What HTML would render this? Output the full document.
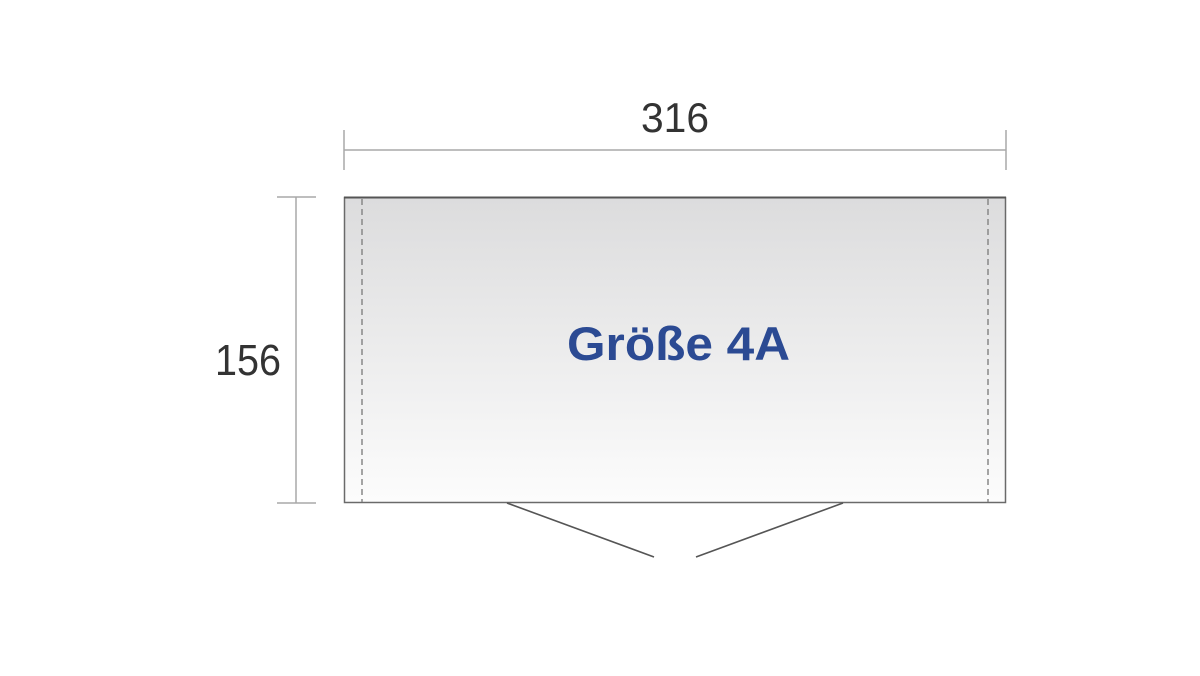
<!DOCTYPE html>
<html><head><meta charset="utf-8"><style>html,body{margin:0;padding:0;background:#fff;width:1200px;height:676px;overflow:hidden}</style></head>
<body>
<svg width="1200" height="676" viewBox="0 0 1200 676" xmlns="http://www.w3.org/2000/svg">
<defs><linearGradient id="g" x1="0" y1="0" x2="0" y2="1"><stop offset="0" stop-color="#dcdcdd"/><stop offset="1" stop-color="#fcfcfc"/></linearGradient></defs>
<!-- horizontal dimension -->
<line x1="344" y1="150" x2="1006" y2="150" stroke="#a8a8a8" stroke-width="1.5"/>
<line x1="344" y1="130" x2="344" y2="170" stroke="#a8a8a8" stroke-width="1.5"/>
<line x1="1006" y1="130" x2="1006" y2="170" stroke="#a8a8a8" stroke-width="1.5"/>
<text x="641" y="132" font-family="Liberation Sans, sans-serif" font-size="42" fill="#333" textLength="68" lengthAdjust="spacingAndGlyphs">316</text>
<!-- vertical dimension -->
<line x1="296" y1="197" x2="296" y2="503" stroke="#a8a8a8" stroke-width="1.5"/>
<line x1="277" y1="197" x2="316" y2="197" stroke="#a8a8a8" stroke-width="1.5"/>
<line x1="277" y1="503" x2="316" y2="503" stroke="#a8a8a8" stroke-width="1.5"/>
<text x="215" y="375" font-family="Liberation Sans, sans-serif" font-size="44" fill="#333" textLength="66" lengthAdjust="spacingAndGlyphs">156</text>
<!-- box -->
<rect x="344.5" y="197.5" width="661" height="305" fill="url(#g)" stroke="#6a6a6a" stroke-width="1.5"/>
<line x1="344" y1="197.5" x2="1006" y2="197.5" stroke="#555" stroke-width="2"/>
<line x1="362" y1="199" x2="362" y2="502" stroke="#888" stroke-width="1.5" stroke-dasharray="6,4"/>
<line x1="988" y1="199" x2="988" y2="502" stroke="#888" stroke-width="1.5" stroke-dasharray="6,4"/>
<text x="567" y="360" font-family="Liberation Sans, sans-serif" font-weight="bold" font-size="47" fill="#2b4a93" textLength="223" lengthAdjust="spacingAndGlyphs">Größe 4A</text>
<!-- door -->
<line x1="507" y1="503" x2="654" y2="557" stroke="#555" stroke-width="1.6"/>
<line x1="843" y1="503" x2="696" y2="557" stroke="#555" stroke-width="1.6"/>
</svg>
</body></html>
